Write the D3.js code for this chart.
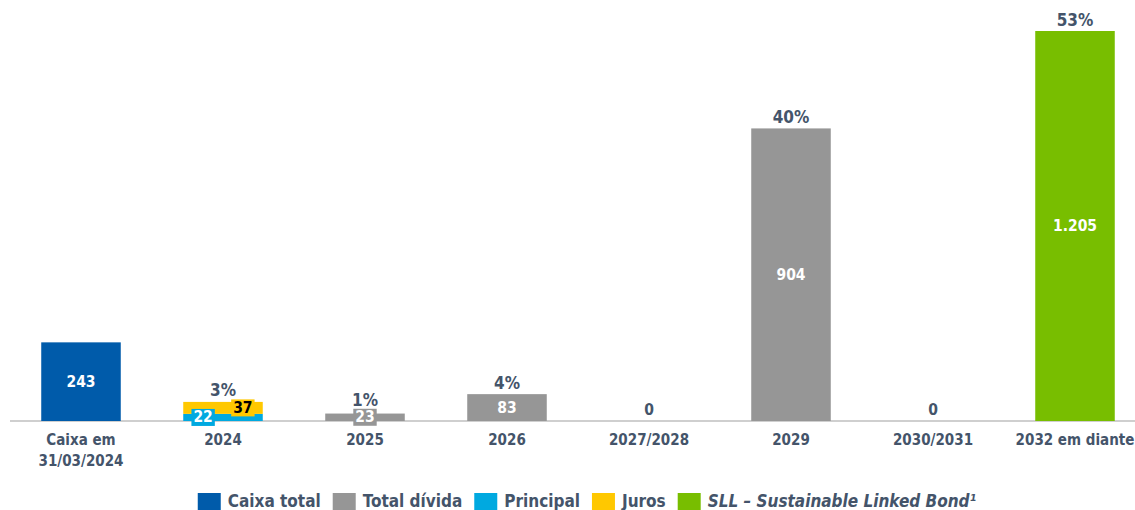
<!DOCTYPE html>
<html>
<head>
<meta charset="utf-8">
<script src="https://cdn.jsdelivr.net/npm/d3@7"></script>
<style>
  body { margin: 0; background: #fff; }
  svg { display: block; }
  text { font-family: "DejaVu Sans Condensed", "DejaVu Sans", Verdana, sans-serif; font-stretch: condensed; font-weight: bold; }
</style>
</head>
<body>
<div id="chart"></div>
<script>
// data
const categories = ["Caixa em|31/03/2024", "2024", "2025", "2026", "2027/2028", "2029", "2030/2031", "2032 em diante"];
const caixaTotal = [243, 0, 0, 0, 0, 0, 0, 0];
const totalDivida = [0, 0, 23, 83, 0, 904, 0, 0];
const principal = [0, 22, 0, 0, 0, 0, 0, 0];
const juros = [0, 37, 0, 0, 0, 0, 0, 0];
const sll = [0, 0, 0, 0, 0, 0, 0, 1205];
const percentLabels = ["", "3%", "1%", "4%", "", "40%", "", "53%"];
const zeroLabels = ["", "", "", "", "0", "", "0", ""];

const seriesInfo = [
  {key: "caixa", name: "Caixa total", values: caixaTotal, color: "#005BAA", text: "#fff"},
  {key: "divida", name: "Total dívida", values: totalDivida, color: "#969696", text: "#fff"},
  {key: "principal", name: "Principal", values: principal, color: "#00A9E0", text: "#fff", shift: -0.25},
  {key: "juros", name: "Juros", values: juros, color: "#FFC800", text: "#000", shift: 0.25},
  {key: "sll", name: "SLL – Sustainable Linked Bond¹", values: sll, color: "#78BE00", text: "#fff", italic: true}
];

const W = 1135, H = 510;
const baseY = 421, topY = 31;
const labelColor = "#44546A";

const rows = categories.map((c, i) => {
  const r = {cat: c};
  seriesInfo.forEach(s => r[s.key] = s.values[i]);
  return r;
});

const stacked = d3.stack().keys(seriesInfo.map(s => s.key))(rows);

const x = d3.scaleBand()
  .domain(categories)
  .range([10, 1146])
  .paddingInner(0.44)
  .paddingOuter(0.22);

const y = d3.scaleLinear()
  .domain([0, 1205])
  .range([baseY, topY]);

const svg = d3.select("#chart").append("svg")
  .attr("width", W)
  .attr("height", H);

//axis line
svg.append("line")
  .attr("x1", 10).attr("x2", W)
  .attr("y1", baseY).attr("y2", baseY)
  .attr("stroke", "#BFBFBF").attr("stroke-width", 1.5);

//bars
stacked.forEach((layer, li) => {
  const s = seriesInfo[li];
  const g = svg.append("g").attr("class", "layer-" + s.key);
  g.selectAll("rect")
    .data(layer.filter(d => d[1] - d[0] > 0))
    .join("rect")
      .attr("x", d => x(d.data.cat))
      .attr("width", x.bandwidth())
      .attr("y", d => y(d[1]))
      .attr("height", d => y(d[0]) - y(d[1]))
      .attr("fill", s.color);
});

// top-most drawn thing per category, used to place the % labels
const topMost = categories.map(() => ({y: baseY, boxed: false}));

//value labels, boxed when the segment is too thin
stacked.forEach((layer, li) => {
  const s = seriesInfo[li];
  layer.forEach((d, i) => {
    const val = d[1] - d[0];
    if (val <= 0) return;
    if (y(d[1]) < topMost[i].y) topMost[i] = {y: y(d[1]), boxed: false};
    const txt = d3.format(",")(val).replace(/,/g, ".");
    const h = y(d[0]) - y(d[1]);
    const cx = x(d.data.cat) + x.bandwidth() / 2 + (s.shift || 0) * x.bandwidth();
    const cy = (y(d[0]) + y(d[1])) / 2;
    const t = svg.append("text")
      .attr("x", cx).attr("y", cy)
      .attr("text-anchor", "middle")
      .attr("dominant-baseline", "central")
      .attr("font-size", 15.5)
      .attr("fill", s.text)
      .text(txt);
    if (h < 16) {
      const bb = t.node().getBBox();
      svg.insert("rect", () => t.node())
        .attr("x", bb.x - 2).attr("y", cy - 8.5)
        .attr("width", bb.width + 4).attr("height", 17)
        .attr("fill", s.color);
      if (cy - 8.5 < topMost[i].y) topMost[i] = {y: cy - 8.5, boxed: true};
    }
  });
});

//percent labels above the bars
svg.append("g").selectAll("text")
  .data(categories.filter((c, i) => percentLabels[i]))
  .join("text")
    .attr("x", c => x(c) + x.bandwidth() / 2)
    .attr("y", c => {
      const tm = topMost[categories.indexOf(c)];
      return tm.y - (tm.boxed ? 3 : 5.5);
    })
    .attr("text-anchor", "middle")
    .attr("font-size", 17)
    .attr("fill", labelColor)
    .text(c => percentLabels[categories.indexOf(c)]);

//zero labels
svg.append("g").selectAll("text")
  .data(categories.filter((c, i) => zeroLabels[i]))
  .join("text")
    .attr("x", c => x(c) + x.bandwidth() / 2)
    .attr("y", y(0) - 6)
    .attr("text-anchor", "middle")
    .attr("font-size", 15.5)
    .attr("fill", labelColor)
    .text(c => zeroLabels[categories.indexOf(c)]);

//category labels
const xAxis = svg.append("g");
categories.forEach(c => {
  const t = xAxis.append("text")
    .attr("x", x(c) + x.bandwidth() / 2)
    .attr("y", 445)
    .attr("text-anchor", "middle")
    .attr("font-size", 15)
    .attr("fill", labelColor);
  c.split("|").forEach((line, k) => {
    t.append("tspan")
      .attr("x", x(c) + x.bandwidth() / 2)
      .attr("dy", k === 0 ? 0 : 21)
      .text(line);
  });
});

//legend
const legend = svg.append("g");
let lx = 0;
seriesInfo.forEach(s => {
  const it = legend.append("g").attr("transform", `translate(${lx},0)`);
  it.append("rect")
    .attr("x", 0).attr("y", 493)
    .attr("width", 23).attr("height", 17)
    .attr("fill", s.color);
  const t = it.append("text")
    .attr("x", 30).attr("y", 507)
    .attr("font-size", 17)
    .attr("fill", labelColor)
    .attr("font-style", s.italic ? "italic" : "normal")
    .text(s.name);
  lx += 30 + t.node().getComputedTextLength() + 12;
});
const legendW = lx - 12;
legend.attr("transform", `translate(${587 - legendW / 2},0)`);
</script>
</body>
</html>
